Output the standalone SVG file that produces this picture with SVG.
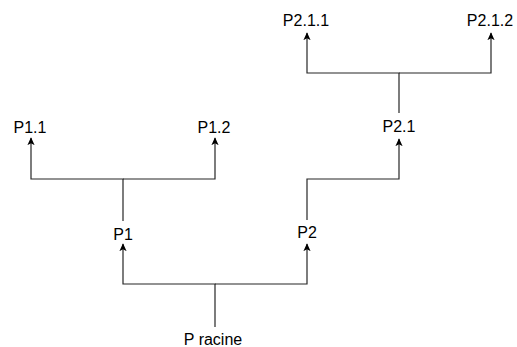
<svg xmlns="http://www.w3.org/2000/svg" width="517" height="347" viewBox="0 0 517 347">
<defs>
<marker id="arr" viewBox="0 0 10 10" refX="9" refY="5" markerWidth="8" markerHeight="8" markerUnits="userSpaceOnUse" orient="auto">
<path d="M0,0.5 L10,5 L0,9.5 L2.5,5 Z" fill="#000"/>
</marker>
<style>
text{font-family:"Liberation Sans",Arial,Helvetica,sans-serif;font-size:16px;fill:#000;text-anchor:middle}
.c{fill:none;stroke:#000;stroke-width:1.2;stroke-opacity:0.85}
</style>
</defs>
<rect width="517" height="347" fill="#fff"/>
<g id="connectors">
<path class="c" d="M215,327 V284 H123 V244" marker-end="url(#arr)"/>
<path class="c" d="M215,284 H307 V244" marker-end="url(#arr)"/>
<path class="c" d="M123,221 V179 H31 V138" marker-end="url(#arr)"/>
<path class="c" d="M123,179 H215 V138" marker-end="url(#arr)"/>
<path class="c" d="M307,220 V179 H399 V139" marker-end="url(#arr)"/>
<path class="c" d="M399,113 V73 H307 V33" marker-end="url(#arr)"/>
<path class="c" d="M399,73 H491 V33" marker-end="url(#arr)"/>
</g>
<g id="root"><text x="213" y="345">P racine</text></g>
<g id="p1"><text x="123" y="240">P1</text></g>
<g id="p2"><text x="307" y="238">P2</text></g>
<g id="p11"><text x="30" y="133">P1.1</text></g>
<g id="p12"><text x="214" y="133">P1.2</text></g>
<g id="p21"><text x="399" y="132">P2.1</text></g>
<g id="p211"><text x="306" y="26">P2.1.1</text></g>
<g id="p212"><text x="490" y="26">P2.1.2</text></g>
</svg>
